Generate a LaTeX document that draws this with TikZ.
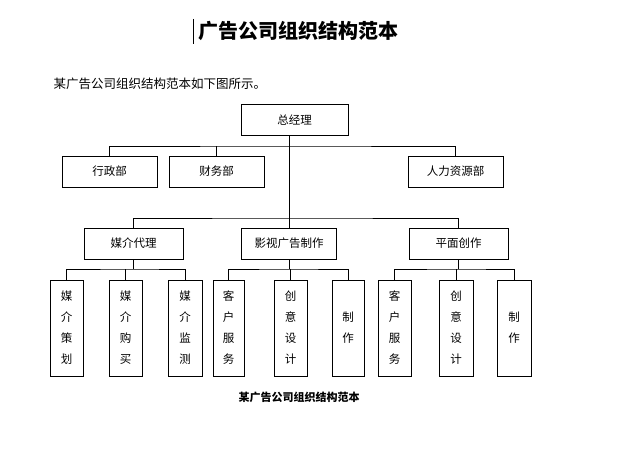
\documentclass[tikz,border=0pt]{standalone}
\usepackage{fontspec}
\newfontfamily\cjk{Noto Sans CJK SC}
\begin{document}
\begin{tikzpicture}[x=1pt,y=-1pt,
  box/.style={draw,thick,line width=0.8pt,minimum height=31pt,inner sep=0pt,font=\cjk\fontsize{11.5}{12}\selectfont},
  leaf/.style={draw,line width=0.8pt,minimum height=96pt,inner sep=0pt,align=center,font=\cjk\fontsize{11.5}{21}\selectfont},
  ln/.style={line width=0.8pt}]
\useasboundingbox (0,0) rectangle (641,468);
\node[font=\cjk\bfseries\fontsize{20}{22}\selectfont,anchor=west] (title) at (195,31) {广告公司组织结构范本};
\draw[line width=1pt] (193,19) -- (193,44);
\node[font=\cjk\fontsize{12.5}{14}\selectfont,anchor=west] (intro) at (50,84) {某广告公司组织结构范本如下图所示。};
\node[box,minimum width=107pt] (gm) at (294.5,120) {总经理};
\node[box,minimum width=95pt] (xz) at (109.5,171.5) {行政部};
\node[box,minimum width=95pt] (cw) at (216.5,171.5) {财务部};
\node[box,minimum width=95pt] (rl) at (455.5,171.5) {人力资源部};
\node[box,minimum width=99pt] (mj) at (133.5,243.5) {媒介代理};
\node[box,minimum width=95pt] (ys) at (289,243.5) {影视广告制作};
\node[box,minimum width=99pt] (pm) at (458.5,243.5) {平面创作};
\coordinate (b1) at (289,146);
\coordinate (b2) at (289,218);
\draw[ln] (gm.south -| b1) -- (b2);
\draw[ln] (xz.north) |- (b1) -| (rl.north);
\draw[ln] (cw.north) -- (cw.north |- b1);
\draw[ln] (mj.north) |- (b2) -| (pm.north);
\draw[ln] (b2) -- (ys.north);
\foreach \n/\x/\w/\t in {l1/66.5/33/媒\\介\\策\\划, l2/125.5/33/媒\\介\\购\\买, l3/185/34/媒\\介\\监\\测,
  l4/228.5/31/客\\户\\服\\务, l5/290.5/33/创\\意\\设\\计, l6/348/32/制\\作,
  l7/394.5/33/客\\户\\服\\务, l8/456/34/创\\意\\设\\计, l9/514/34/制\\作}
  \node[leaf,minimum width=\w pt] (\n) at (\x,328) {\t};
\foreach \p/\a/\b/\c in {mj/l1/l2/l3, ys/l4/l5/l6, pm/l7/l8/l9}{
  \draw[ln] (\p.south) -- (\p.south |- 0,269) ;
  \draw[ln] (\a.north) |- (\p.south |- 0,269) -| (\c.north);
  \draw[ln] (\b.north) -- (\b.north |- 0,269);
}
\node[font=\cjk\bfseries\fontsize{11}{12}\selectfont] (cap) at (299,397) {某广告公司组织结构范本};
\end{tikzpicture}
\end{document}
